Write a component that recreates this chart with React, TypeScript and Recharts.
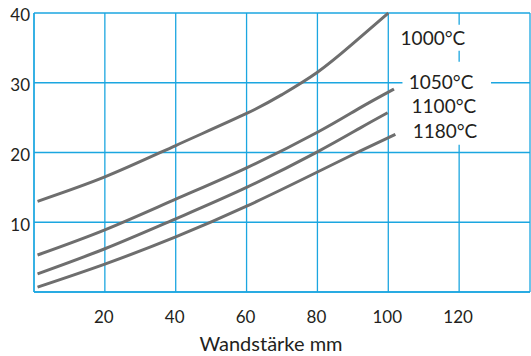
import {
  LineChart,
  Line,
  XAxis,
  YAxis,
  CartesianGrid,
  ReferenceArea,
  ReferenceDot,
} from "recharts";

// wall thickness (mm) vs. value, one curve per temperature
const x1000 = [1, 20, 40, 60, 70, 80, 90, 100];
const y1000 = [13, 16.5, 21, 25.6, 28.3, 31.5, 35.6, 40];

const x1050 = [1, 20, 40, 60, 80, 92, 101.6];
const y1050 = [5.3, 8.9, 13.3, 17.8, 22.9, 26.4, 29.1];

const x1100 = [1, 20, 40, 60, 80, 92, 99.8];
const y1100 = [2.6, 6.2, 10.5, 15, 20.1, 23.5, 25.7];

const x1180 = [1, 20, 40, 60, 80, 92, 102];
const y1180 = [0.7, 4, 7.9, 12.3, 17.2, 20.2, 22.6];

const xTicks = [20, 40, 60, 80, 100, 120];
const yTicks = [10, 20, 30, 40];

const labels = [
  { text: "1000°C", x: 112.6, y: 36.4 },
  { text: "1050°C", x: 114.9, y: 30.1 },
  { text: "1100°C", x: 115.7, y: 26.7 },
  { text: "1180°C", x: 116, y: 23.1 },
];

const toPoints = (xs: number[], ys: number[]) =>
  xs.map((x, i) => ({ x, y: ys[i] }));

const GRID = "#1ba6e0";
const CURVE = "#6e6e6e";
const INK = "#231f20";
const FONT = "Lato, 'Open Sans', sans-serif";

function XTick({ x, y, payload }: any) {
  return (
    <text x={x - 1} y={y} textAnchor="middle" dominantBaseline="middle" fontSize={17} fill={INK} fontFamily={FONT}>
      {payload.value}
    </text>
  );
}

function YTick({ x, y, payload }: any) {
  return (
    <text x={x} y={y + 4} textAnchor="end" dominantBaseline="middle" fontSize={17} fill={INK} fontFamily={FONT}>
      {payload.value}
    </text>
  );
}

export default function App() {
  const series = [
    toPoints(x1000, y1000),
    toPoints(x1050, y1050),
    toPoints(x1100, y1100),
    toPoints(x1180, y1180),
  ];

  return (
    <div style={{ position: "absolute", left: 0, top: 0, width: 531, height: 356, overflow: "hidden", background: "#fff" }}>
      <LineChart width={531} height={356} margin={{ top: 13, right: 1, bottom: 0, left: 0 }}>
        <CartesianGrid stroke={GRID} strokeWidth={1.3} />
        <XAxis
          type="number"
          dataKey="x"
          domain={[0, 140]}
          ticks={xTicks}
          tick={<XTick />}
          tickLine={false}
          tickSize={0}
          tickMargin={27}
          axisLine={{ stroke: GRID, strokeWidth: 1.3 }}
          height={64}
          label={{
            content: () => (
              <text x={271} y={346} textAnchor="middle" dominantBaseline="middle" fontSize={20} fill={INK} fontFamily={FONT}>
                Wandstärke mm
              </text>
            ),
          }}
        />
        <YAxis
          type="number"
          dataKey="y"
          domain={[0, 40]}
          ticks={yTicks}
          tick={<YTick />}
          tickLine={false}
          tickSize={0}
          tickMargin={4}
          axisLine={{ stroke: GRID, strokeWidth: 1.3 }}
          width={34}
        />
        <ReferenceArea x1={104} x2={129} y1={21.1} y2={33} fill="#fff" fillOpacity={1} stroke="none" />
        <ReferenceArea x1={103} x2={123} y1={34.6} y2={38.3} fill="#fff" fillOpacity={1} stroke="none" />
        {series.map((pts, i) => (
          <Line
            key={i}
            data={pts}
            dataKey="y"
            type="natural"
            stroke={CURVE}
            strokeWidth={3}
            dot={false}
            activeDot={false}
            isAnimationActive={false}
          />
        ))}
        {labels.map((l) => (
          <ReferenceDot
            key={l.text}
            x={l.x}
            y={l.y}
            r={0}
            fill="none"
            stroke="none"
            label={{ value: l.text, position: "center", fontSize: 19, fill: INK, fontFamily: FONT }}
          />
        ))}
      </LineChart>
    </div>
  );
}
